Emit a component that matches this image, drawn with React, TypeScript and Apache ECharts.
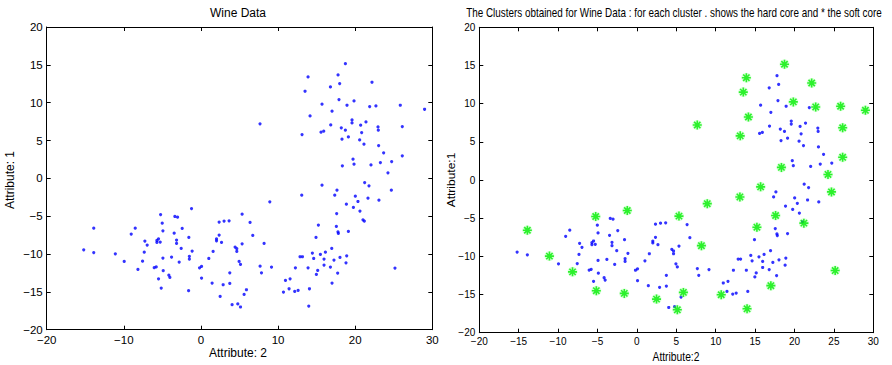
import React, { useEffect, useRef } from "react";
import * as echarts from "echarts";

// Hard core points (blue dots in the cluster plot)
const hardCore: number[][] = [
  [15.7, 9.8], [15.57, 6.1], [15.92, 6.23], [16.79, 12.08], [16.83, 7.06], [17.0, 8.87],
  [17.78, 13.66], [17.99, 12.52], [17.9, 10.41], [18.94, 9.66], [18.2, 6.67], [18.73, 6.36],
  [18.29, 5.17], [19.12, 5.48], [19.59, 7.72], [19.59, 7.33], [20.71, 7.02], [20.84, 6.05],
  [21.4, 7.46], [21.88, 9.48], [20.58, 5.08], [21.14, 4.51], [22.96, 6.8], [23.0, 6.36],
  [23.04, 4.33], [23.69, 3.37], [19.72, 2.53], [19.85, 1.87], [22.05, 1.78], [23.27, 2.09],
  [24.73, 2.22],
  [21.23, -0.55], [21.79, -0.99], [17.64, -1.56], [17.35, -2.22], [20.02, -2.35], [21.66, -2.62],
  [20.36, -3.06], [23.08, -2.88], [18.86, -3.41], [19.77, -3.85], [20.62, -4.33], [21.01, -5.48],
  [17.56, -6.36], [17.77, -7.06], [17.82, -7.28], [19.12, -7.02], [14.92, -7.81],
  [2.36, -5.78], [3.0, -5.65], [3.65, -5.61], [6.37, -5.83], [2.36, -7.5], [6.72, -7.55],
  [2.02, -8.0], [2.02, -8.25], [2.67, -8.47], [5.34, -8.65], [4.43, -9.08], [4.65, -9.3],
  [4.65, -9.66], [1.58, -9.66], [1.02, -10.59], [4.95, -10.98], [5.13, -11.38], [0.08, -11.64],
  [-0.18, -11.82], [7.67, -11.6], [9.15, -11.73], [3.74, -12.48], [7.85, -12.48], [0.08, -13.18],
  [2.88, -14.06], [3.74, -13.89], [1.45, -13.84], [5.6, -15.34], [4.04, -16.7], [4.78, -16.6],
  [12.85, -10.36], [13.16, -10.36], [12.25, -11.82], [13.89, -11.82], [14.45, -9.88], [15.49, -10.06],
  [16.14, -9.75], [14.62, -10.59], [15.96, -10.67], [15.14, -12.17], [14.97, -12.7], [15.96, -11.46],
  [10.96, -13.49], [11.56, -13.27], [11.43, -14.59], [12.16, -14.94], [12.6, -14.81], [14.07, -14.59],
  [16.96, -9.26], [18.9, -10.23], [18.03, -10.45], [17.25, -10.8], [16.79, -11.73], [18.81, -11.16],
  [17.73, -12.52],
  [-3.38, -5.04], [-3.03, -5.13], [-5.02, -5.92], [-8.52, -6.58], [-3.47, -7.24], [-4.93, -6.93],
  [-2.43, -6.62], [-9.04, -7.37], [-1.57, -7.81], [-5.5, -7.99], [-7.27, -8.29], [-3.16, -8.16],
  [-5.71, -8.2], [-5.71, -8.47], [-5.28, -8.42], [-3.16, -8.6], [-6.97, -8.82], [-2.56, -9.26],
  [-15.2, -9.44], [-13.9, -9.8], [-7.35, -9.75], [-1.14, -9.61], [-1.5, -10.3], [-1.5, -10.67],
  [-3.81, -10.4], [-4.93, -10.54], [-9.95, -10.98], [-7.57, -10.94], [-2.82, -11.06], [-6.06, -11.8],
  [-5.8, -11.7], [-4.89, -12.2], [-4.16, -12.8], [-4.03, -13.1], [-5.5, -13.27],
];

// Soft core points (green asterisks in the cluster plot)
const softCore: number[][] = [
  [7.66, 7.2], [13.11, 5.78], [13.89, 13.4], [13.5, 11.51], [14.15, 8.25], [18.73, 15.16],
  [19.85, 10.23], [22.18, 12.7], [22.69, 9.57], [25.85, 9.66], [26.11, 6.84], [26.11, 2.97],
  [29.0, 9.13], [18.34, 1.65], [24.25, 0.73],
  [15.7, -0.9], [24.69, -1.56], [13.07, -2.22], [17.6, -4.65], [21.19, -5.65], [15.23, -6.18],
  [8.93, -3.1], [-1.22, -4.0], [5.34, -4.73], [8.19, -8.6], [5.9, -14.72], [2.49, -15.6],
  [5.13, -17.0], [10.7, -15.03], [13.98, -16.87], [17.0, -13.84], [25.16, -11.86],
  [-5.23, -4.78], [-13.9, -6.58], [-11.1, -9.97], [-8.17, -12.03], [-5.15, -14.5], [-1.6, -14.85],
];

const allPoints = [...hardCore, ...softCore];

const leftTitle = "Wine Data";
const rightTitle = "The Clusters obtained for Wine Data : for each cluster . shows the hard core and * the soft core";
const leftXName = "Attribute: 2";
const leftYName = "Attribute: 1";
const rightXName = "Attribute:2";
const rightYName = "Attribute:1";

const FONT = '"Liberation Sans", Arial, Helvetica, sans-serif';
const fmt = (v: number) => String(v).replace("-", "\u2212");

function measure(text: string, font: string): number {
  const c = document.createElement("canvas").getContext("2d");
  if (!c) return text.length * 6;
  c.font = font;
  return c.measureText(text).width;
}

export default function App() {
  const ref = useRef<HTMLDivElement>(null);
  useEffect(() => {
    document.body.style.margin = "0";
    const chart = echarts.init(ref.current!, undefined, { renderer: "svg" });
    const axisLine = { show: true, onZero: false, lineStyle: { color: "#000", width: 1 } };
    const tick = { show: true, inside: true, length: 4, lineStyle: { color: "#000" } };
    const mkX = (gi: number, interval: number, fs: number, margin: number) => [
      {
        gridIndex: gi, type: "value", min: -20, max: 30, interval, position: "bottom",
        axisLine, axisTick: tick, splitLine: { show: false },
        axisLabel: { color: "#000", fontSize: fs, fontFamily: FONT, margin, formatter: fmt },
      },
      {
        gridIndex: gi, type: "value", min: -20, max: 30, interval, position: "top",
        axisLine, axisTick: tick, splitLine: { show: false }, axisLabel: { show: false },
      },
    ];
    const mkY = (gi: number, fs: number, margin: number) => [
      {
        gridIndex: gi, type: "value", min: -20, max: 20, interval: 5, position: "left",
        axisLine, axisTick: tick, splitLine: { show: false },
        axisLabel: { color: "#000", fontSize: fs, fontFamily: FONT, margin, formatter: fmt },
      },
      {
        gridIndex: gi, type: "value", min: -20, max: 20, interval: 5, position: "right",
        axisLine, axisTick: tick, splitLine: { show: false }, axisLabel: { show: false },
      },
    ];
    const titleFont = `12px ${FONT}`;
    const rtScale = 416 / measure(rightTitle, titleFont);
    const rxScale = 47 / measure(rightXName, titleFont);
    const star = "path://M0 5L10 5M5 0L5 10M1.5 1.5L8.5 8.5M1.5 8.5L8.5 1.5";
    chart.setOption({
      animation: false,
      grid: [
        { left: 46.7, right: 459.7, top: 27, bottom: 35.3 },
        { left: 479.3, right: 18.7, top: 27.3, bottom: 32.3 },
      ],
      xAxis: [...mkX(0, 10, 11.5, 4), ...mkX(1, 5, 10, 4)],
      yAxis: [...mkY(0, 11.5, 4), ...mkY(1, 10, 4)],
      series: [
        {
          type: "scatter", xAxisIndex: 0, yAxisIndex: 0, data: allPoints,
          symbol: "circle", symbolSize: 3.2, itemStyle: { color: "#0000ff" },
        },
        {
          type: "scatter", xAxisIndex: 2, yAxisIndex: 2, data: hardCore,
          symbol: "circle", symbolSize: 3.2, itemStyle: { color: "#0000ff" },
        },
        {
          type: "scatter", xAxisIndex: 2, yAxisIndex: 2, data: softCore,
          symbol: "circle", symbolSize: 10, itemStyle: { color: "rgba(120,255,120,0.35)" },
        },
        {
          type: "scatter", xAxisIndex: 2, yAxisIndex: 2, data: softCore,
          symbol: star, symbolSize: 9,
          itemStyle: { color: "#00ee00", borderColor: "#00ee00", borderWidth: 1.6 },
        },
      ],
      graphic: [
        { type: "text", x: 238, y: 13, style: { text: leftTitle, font: titleFont, fill: "#000", textAlign: "center", textVerticalAlign: "middle" } },
        { type: "text", x: 238, y: 353, style: { text: leftXName, font: titleFont, fill: "#000", textAlign: "center", textVerticalAlign: "middle" } },
        { type: "text", x: 10, y: 180, rotation: Math.PI / 2, style: { text: leftYName, font: titleFont, fill: "#000", textAlign: "center", textVerticalAlign: "middle" } },
        { type: "text", x: 674, y: 13, scaleX: rtScale, style: { text: rightTitle, font: titleFont, fill: "#000", textAlign: "center", textVerticalAlign: "middle" } },
        { type: "text", x: 676, y: 357, scaleX: rxScale, style: { text: rightXName, font: titleFont, fill: "#000", textAlign: "center", textVerticalAlign: "middle" } },
        { type: "text", x: 451, y: 180, rotation: Math.PI / 2, scaleY: rxScale, style: { text: rightYName, font: titleFont, fill: "#000", textAlign: "center", textVerticalAlign: "middle" } },
      ],
    });
    return () => chart.dispose();
  }, []);
  return <div ref={ref} style={{ position: "fixed", left: 0, top: 0, width: 892, height: 365, background: "#fff" }} />;
}
